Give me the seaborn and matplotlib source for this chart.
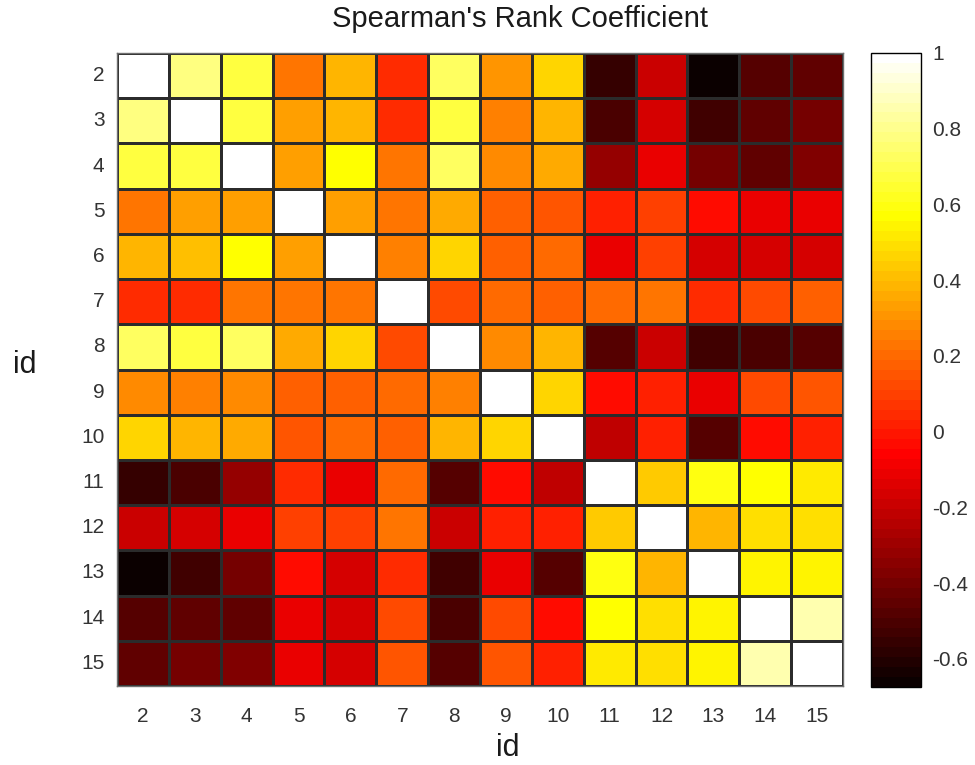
import numpy as np
import pandas as pd
import matplotlib
matplotlib.use("Agg")
import matplotlib.pyplot as plt
from matplotlib.colors import ListedColormap
from matplotlib.ticker import FuncFormatter
import seaborn as sns

# ---- data -------------------------------------------------------------
ids = [2, 3, 4, 5, 6, 7, 8, 9, 10, 11, 12, 13, 14, 15]
row_2  = [1.00, 0.77, 0.67, 0.23, 0.38, 0.035, 0.72, 0.305, 0.475, -0.56, -0.19, -0.674, -0.465, -0.44]
row_3  = [0.77, 1.00, 0.66, 0.34, 0.39, 0.035, 0.675, 0.255, 0.39, -0.50, -0.16, -0.535, -0.44, -0.39]
row_4  = [0.67, 0.66, 1.00, 0.32, 0.57, 0.23, 0.73, 0.29, 0.365, -0.32, -0.10, -0.40, -0.44, -0.37]
row_5  = [0.23, 0.34, 0.32, 1.00, 0.32, 0.23, 0.35, 0.18, 0.16, 0.025, 0.085, -0.04, -0.11, -0.10]
row_6  = [0.38, 0.40, 0.57, 0.32, 1.00, 0.255, 0.475, 0.18, 0.21, -0.12, 0.085, -0.17, -0.17, -0.16]
row_7  = [0.035, 0.035, 0.23, 0.23, 0.24, 1.00, 0.12, 0.195, 0.18, 0.195, 0.23, 0.035, 0.13, 0.18]
row_8  = [0.72, 0.67, 0.73, 0.35, 0.475, 0.12, 1.00, 0.27, 0.39, -0.49, -0.19, -0.52, -0.51, -0.48]
row_9  = [0.29, 0.255, 0.28, 0.18, 0.18, 0.21, 0.255, 1.00, 0.475, -0.03, 0.025, -0.12, 0.13, 0.16]
row_10 = [0.475, 0.38, 0.365, 0.16, 0.21, 0.17, 0.39, 0.475, 1.00, -0.22, 0.025, -0.465, -0.04, 0.025]
row_11 = [-0.56, -0.50, -0.32, 0.035, -0.12, 0.195, -0.49, -0.03, -0.22, 1.00, 0.45, 0.585, 0.57, 0.52]
row_12 = [-0.19, -0.16, -0.10, 0.085, 0.085, 0.23, -0.19, 0.025, 0.025, 0.45, 1.00, 0.38, 0.485, 0.50]
row_13 = [-0.674, -0.535, -0.40, -0.04, -0.17, 0.035, -0.52, -0.12, -0.465, 0.585, 0.38, 1.00, 0.54, 0.55]
row_14 = [-0.465, -0.44, -0.44, -0.11, -0.17, 0.13, -0.51, 0.13, -0.04, 0.57, 0.485, 0.54, 1.00, 0.845]
row_15 = [-0.45, -0.40, -0.38, -0.10, -0.16, 0.16, -0.48, 0.16, 0.025, 0.52, 0.50, 0.55, 0.845, 1.00]
cbar_ticks = [-0.6, -0.4, -0.2, 0, 0.2, 0.4, 0.6, 0.8, 1]
title = "Spearman's Rank Coefficient"

rows = [row_2, row_3, row_4, row_5, row_6, row_7, row_8, row_9, row_10,
        row_11, row_12, row_13, row_14, row_15]
df = pd.DataFrame(rows, index=ids, columns=ids)

# ---- MATLAB-like 'hot' colormap (64 levels) ---------------------------
n = 64
n1 = 24
r = np.concatenate([np.arange(1, n1 + 1) / n1, np.ones(n - n1)])
g = np.concatenate([np.zeros(n1), np.arange(1, n1 + 1) / n1, np.ones(n - 2 * n1)])
b = np.concatenate([np.zeros(2 * n1), np.arange(1, n - 2 * n1 + 1) / (n - 2 * n1)])
cmap = ListedColormap(np.column_stack([r, g, b]))

# ---- figure -----------------------------------------------------------
sns.set_theme(style="white")
plt.rcParams['font.family'] = ['Liberation Sans', 'DejaVu Sans']
W, H = 975, 765
fig = plt.figure(figsize=(W / 100, H / 100), dpi=100)

def fx(px):
    return px / W

def fy(py):
    return 1 - py / H

ax = fig.add_axes([fx(117), fy(686), fx(843) - fx(117), fy(53) - fy(686)])
cax = fig.add_axes([fx(871), fy(687), fx(921) - fx(871), fy(53) - fy(687)])

vmin = float(np.min(df.values))
sns.heatmap(df, ax=ax, cbar_ax=cax, cmap=cmap, vmin=vmin, vmax=1,
            linewidths=0.8, linecolor='#2b2b2b', square=False)

txt_col = '#333333'
ax.tick_params(axis='both', length=0, labelsize=15, colors=txt_col)
ax.tick_params(axis='x', pad=15)
ax.tick_params(axis='y', pad=9)
ax.set_yticklabels([str(i) for i in ids], rotation=0)
ax.set_xticklabels([str(i) for i in ids], rotation=0)
ax.set_xlabel('')
ax.set_ylabel('')
for s in ax.spines.values():
    s.set_visible(True)
    s.set_color('#6e6e6e')
    s.set_linewidth(1.0)

# colorbar styling
cb = ax.collections[0].colorbar
cb.set_ticks(cbar_ticks)
cb.ax.yaxis.set_major_formatter(FuncFormatter(lambda v, p: ('%g' % round(v, 2)).replace('\u2212', '-')))
cax.tick_params(axis='y', direction='in', length=3, width=0.8, colors=txt_col,
                labelsize=15, pad=8, right=True, left=False)
for lab in cax.get_yticklabels():
    lab.set_color(txt_col)
cb.outline.set_edgecolor('black')
cb.outline.set_linewidth(1.0)

# title and labels
fig.text(fx(520), fy(19), title, ha='center', va='center', fontsize=21, color='#1a1a1a')
fig.text(fx(508), fy(748), 'id', ha='center', va='center', fontsize=22, color='#1a1a1a')
fig.text(fx(25), fy(365), 'id', ha='center', va='center', fontsize=22, color='#1a1a1a')

fig.savefig('out.png', dpi=100)
